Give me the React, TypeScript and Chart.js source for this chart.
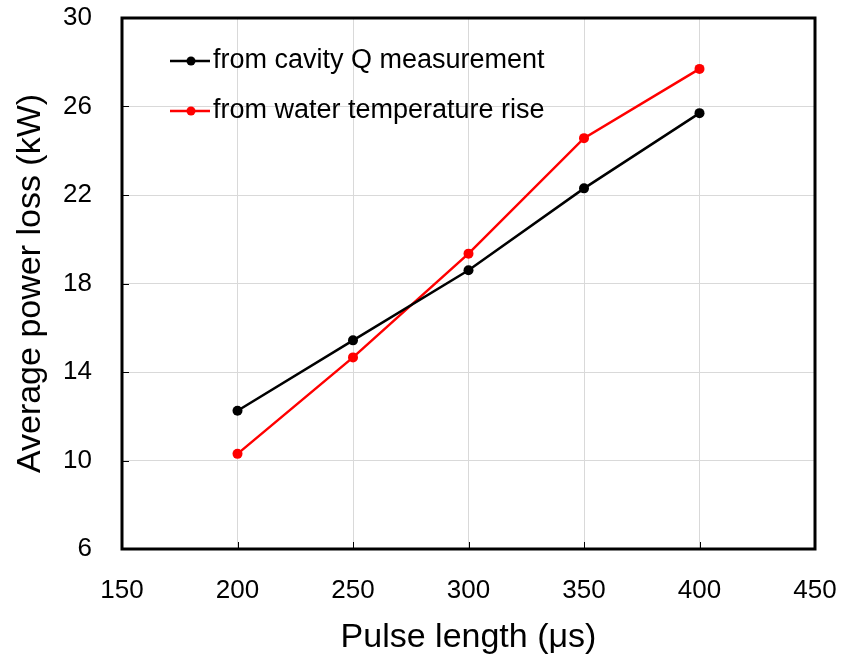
import React, { useEffect, useRef } from "react";
import { Chart, registerables } from "chart.js";

Chart.register(...registerables);

const pulseLengths = [200, 250, 300, 350, 400];
const cavityQValues = [12.25, 15.43, 18.6, 22.3, 25.7];
const waterTempValues = [10.3, 14.66, 19.35, 24.57, 27.7];
const seriesLabels = ["from cavity Q measurement", "from water temperature rise"];
const seriesColors = ["#000000", "#ff0000"];
const xTitle = "Pulse length (\u03bcs)";
const yTitle = "Average power loss (kW)";

const FONT = "'Liberation Sans', Arial, sans-serif";

const boxAndLegend = {
  id: "boxAndLegend",
  afterDraw(chart: any) {
    const { ctx, chartArea, scales } = chart;
    const { left, right, top, bottom } = chartArea;
    ctx.save();
    // inner tick marks
    ctx.strokeStyle = "#000";
    ctx.lineWidth = 1;
    const xs = scales.x;
    const ys = scales.y;
    xs.ticks.forEach((t: any) => {
      const px = Math.round(xs.getPixelForValue(t.value)) + 0.5;
      ctx.beginPath();
      ctx.moveTo(px, bottom);
      ctx.lineTo(px, bottom - 7);
      ctx.stroke();
    });
    ys.ticks.forEach((t: any) => {
      const py = Math.round(ys.getPixelForValue(t.value)) + 0.5;
      ctx.beginPath();
      ctx.moveTo(left, py);
      ctx.lineTo(left + 7, py);
      ctx.stroke();
    });
    // frame
    ctx.lineWidth = 3;
    ctx.strokeStyle = "#000";
    ctx.strokeRect(left, top, right - left, bottom - top);
    // legend
    const lx = left + 48;
    const rows = [top + 43, top + 93];
    ctx.font = `27px ${FONT}`;
    ctx.textBaseline = "middle";
    ctx.textAlign = "left";
    seriesLabels.forEach((label, i) => {
      const y = rows[i];
      ctx.strokeStyle = seriesColors[i];
      ctx.fillStyle = seriesColors[i];
      ctx.lineWidth = 2.5;
      ctx.beginPath();
      ctx.moveTo(lx, y);
      ctx.lineTo(lx + 40, y);
      ctx.stroke();
      ctx.beginPath();
      ctx.arc(lx + 21, y, 4.5, 0, Math.PI * 2);
      ctx.fill();
      ctx.fillStyle = "#000";
      ctx.fillText(label, lx + 43, y);
    });
    ctx.restore();
  },
};

export default function App() {
  const ref = useRef<HTMLCanvasElement | null>(null);
  useEffect(() => {
    document.body.style.margin = "0";
    if (!ref.current) return;
    const mk = (vals: number[]) => pulseLengths.map((x, i) => ({ x, y: vals[i] }));
    const chart = new Chart(ref.current, {
      type: "scatter",
      data: {
        datasets: [
          {
            label: seriesLabels[0],
            data: mk(cavityQValues),
            showLine: true,
            borderColor: seriesColors[0],
            backgroundColor: seriesColors[0],
            borderWidth: 2.5,
            pointRadius: 5,
            pointBorderWidth: 0,
          },
          {
            label: seriesLabels[1],
            data: mk(waterTempValues),
            showLine: true,
            borderColor: seriesColors[1],
            backgroundColor: seriesColors[1],
            borderWidth: 2.5,
            pointRadius: 5,
            pointBorderWidth: 0,
          },
        ],
      },
      options: {
        responsive: false,
        animation: false,
        layout: { padding: { top: 18, right: 30, left: 0, bottom: 0 } },
        plugins: { legend: { display: false }, tooltip: { enabled: false } },
        scales: {
          x: {
            type: "linear",
            min: 150,
            max: 450,
            ticks: { stepSize: 50, color: "#000", font: { size: 26, family: FONT }, padding: 26 },
            grid: { color: "#d9d9d9", lineWidth: 1, drawTicks: false },
            border: { display: false },
            title: {
              display: true,
              text: xTitle,
              color: "#000",
              font: { size: 34, family: FONT },
              padding: { top: 0, bottom: 6 },
            },
            afterFit: (s: any) => {
              s.height = 115;
              s.paddingLeft = 0;
              s.paddingRight = 0;
            },
          },
          y: {
            min: 6,
            max: 30,
            ticks: { stepSize: 4, color: "#000", font: { size: 26, family: FONT }, padding: 30 },
            grid: { color: "#d9d9d9", lineWidth: 1, drawTicks: false },
            border: { display: false },
            title: {
              display: true,
              text: yTitle,
              color: "#000",
              font: { size: 34, family: FONT },
              padding: { top: 10, bottom: 0 },
            },
            afterFit: (s: any) => {
              s.width = 122;
              s.paddingTop = 0;
              s.paddingBottom = 0;
            },
          },
        },
      },
      plugins: [boxAndLegend],
    });
    return () => chart.destroy();
  }, []);
  return (
    <div style={{ width: 845, height: 664, background: "#fff" }}>
      <canvas ref={ref} width={845} height={664} />
    </div>
  );
}
